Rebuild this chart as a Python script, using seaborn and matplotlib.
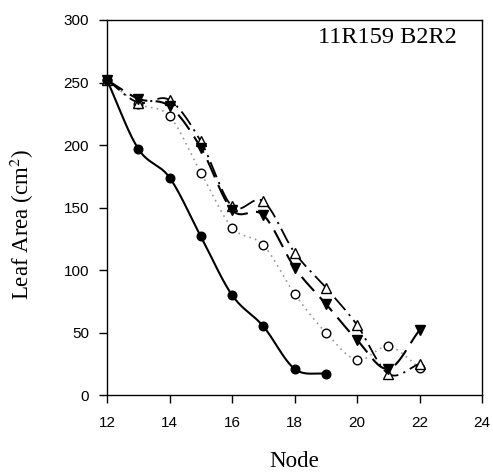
import numpy as np
import pandas as pd
import matplotlib
matplotlib.use("Agg")
import matplotlib.pyplot as plt
import seaborn as sns

# ---- data ----
nodes_a = [12, 13, 14, 15, 16, 17, 18, 19]
leaf_a = [252, 197, 174, 127, 80, 55, 21, 17]

nodes_b = [12, 13, 14, 15, 16, 17, 18, 19, 20, 21, 22]
leaf_b = [252, 233, 223, 178, 134, 120, 81, 50, 28, 39, 22]

nodes_c = [12, 13, 14, 15, 16, 17, 18, 19, 20, 21, 22]
leaf_c = [252, 237, 231, 198, 148, 144, 102, 73, 44, 21, 52]

nodes_d = [12, 13, 14, 15, 16, 17, 18, 19, 20, 21, 22]
leaf_d = [252, 234, 236, 203, 151, 155, 114, 86, 56, 17, 25]

x_ticks = [12, 14, 16, 18, 20, 22, 24]
y_ticks = [0, 50, 100, 150, 200, 250, 300]
annotation = "11R159 B2R2"
x_label = "Node"
y_label = "Leaf Area (cm$^2$)"

sns.set_theme(style="ticks")
plt.rcParams["font.family"] = ["Liberation Sans", "DejaVu Sans"]
plt.rcParams["mathtext.fontset"] = "stix"


def smooth(x, y, n=20):
    """Catmull-Rom curve through the points (drawing style only)."""
    x = np.asarray(x, float)
    y = np.asarray(y, float)
    px = np.concatenate([[2 * x[0] - x[1]], x, [2 * x[-1] - x[-2]]])
    py = np.concatenate([[2 * y[0] - y[1]], y, [2 * y[-1] - y[-2]]])
    xs, ys = [], []
    t = np.linspace(0, 1, n, endpoint=False)
    for i in range(1, len(px) - 2):
        for arr, out in ((px, xs), (py, ys)):
            p0, p1, p2, p3 = arr[i - 1], arr[i], arr[i + 1], arr[i + 2]
            out.extend(0.5 * ((2 * p1) + (-p0 + p2) * t
                              + (2 * p0 - 5 * p1 + 4 * p2 - p3) * t ** 2
                              + (-p0 + 3 * p1 - 3 * p2 + p3) * t ** 3))
    xs.append(x[-1])
    ys.append(y[-1])
    return np.array(xs), np.array(ys)


fig = plt.figure(figsize=(4.93, 4.76), dpi=100)
ax = fig.add_axes([0.217, 0.170, 0.761, 0.788])

series = [
    (nodes_b, leaf_b, dict(color="#999999", lw=1.2, ls=(0, (1, 2.5))),
     dict(marker="o", mfc="white", mec="black", ms=6.2)),
    (nodes_d, leaf_d, dict(color="black", lw=1.3, ls=(0, (9, 3, 1.2, 3))),
     dict(marker="^", mfc="white", mec="black", ms=7)),
    (nodes_c, leaf_c, dict(color="black", lw=1.5, ls=(0, (9, 4))),
     dict(marker="v", mfc="black", mec="black", ms=7)),
    (nodes_a, leaf_a, dict(color="black", lw=1.5, ls="-"),
     dict(marker="o", mfc="black", mec="black", ms=6.2)),
]

for xs_, ys_, lstyle, mstyle in series:
    sx, sy = smooth(xs_, ys_)
    sns.lineplot(x=sx, y=sy, ax=ax, sort=False, estimator=None,
                 color=lstyle["color"], linewidth=lstyle["lw"],
                 legend=False)
    ax.lines[-1].set_linestyle(lstyle["ls"])
    df = pd.DataFrame({"x": xs_, "y": ys_})
    ax.plot(df["x"], df["y"], ls="none", marker=mstyle["marker"],
            markerfacecolor=mstyle["mfc"], markeredgecolor=mstyle["mec"],
            markersize=mstyle["ms"], markeredgewidth=1.0, zorder=5,
            clip_on=False)

ax.set_xlim(12, 24)
ax.set_ylim(0, 300)
ax.set_xticks(x_ticks)
ax.set_yticks(y_ticks)
ax.tick_params(axis="both", direction="out", length=6, width=1.0,
               color="black", labelsize=11, labelcolor="black", pad=7)
ax.tick_params(axis="x", pad=9)
for s in ax.spines.values():
    s.set_visible(True)
    s.set_color("black")
    s.set_linewidth(1.0)

ax.set_xlabel(x_label, family="Liberation Serif", fontsize=16.5,
              color="black")
ax.set_ylabel(y_label, family="Liberation Serif", fontsize=16.5,
              color="black")
ax.xaxis.set_label_coords(0.5, -0.148)
ax.yaxis.set_label_coords(-0.19, 0.455)
ax.text(0.933, 0.952, annotation, transform=ax.transAxes, ha="right",
        va="center", family="Liberation Serif", fontsize=17.5, color="black")

fig.savefig("out.png", dpi=100, facecolor="white")
